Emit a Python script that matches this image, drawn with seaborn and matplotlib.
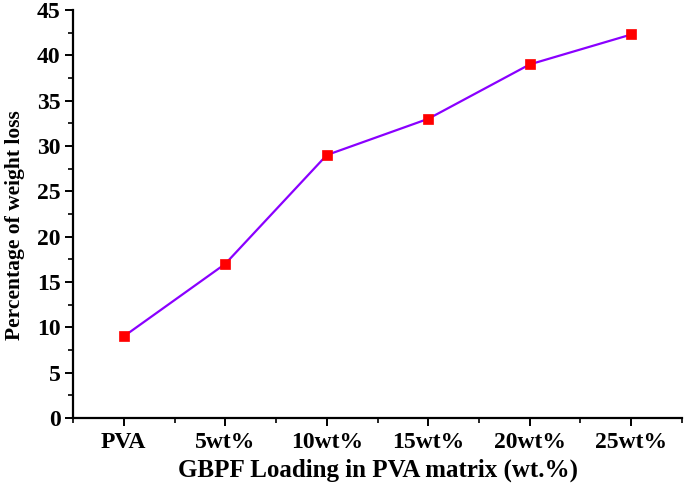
import matplotlib
matplotlib.use("Agg")
import matplotlib.pyplot as plt
import seaborn as sns
import pandas as pd
from matplotlib.ticker import MultipleLocator, FixedLocator

categories = ["PVA", "5wt%", "10wt%", "15wt%", "20wt%", "25wt%"]
weight_loss = [9.0, 17.0, 29.0, 33.0, 39.0, 42.3]

sns.set_style("ticks")
plt.rcParams["font.family"] = ["Liberation Serif", "DejaVu Serif"]
plt.rcParams["font.weight"] = "bold"
plt.rcParams["text.color"] = "black"
plt.rcParams["axes.labelcolor"] = "black"
plt.rcParams["xtick.color"] = "black"
plt.rcParams["ytick.color"] = "black"

df = pd.DataFrame({"cat": categories, "pos": range(len(categories)), "val": weight_loss})

fig = plt.figure(figsize=(6.85, 4.91), dpi=100)
ax = fig.add_axes([0.1066, 0.1487, 0.889, 0.8309])

sns.lineplot(data=df, x="pos", y="val", ax=ax, color="#8A00FF", linewidth=1.6,
             marker="s", markersize=7, markerfacecolor="#FF0000",
             markeredgecolor="#FF0000", markeredgewidth=0.5)

ax.set_xlim(-0.5, 5.5)
ax.set_ylim(0, 45)
ax.set_xticks(range(len(categories)))
ax.set_xticklabels(categories)
ax.xaxis.set_minor_locator(FixedLocator([-0.5 + i for i in range(7)]))
ax.yaxis.set_major_locator(MultipleLocator(5))
ax.yaxis.set_minor_locator(MultipleLocator(2.5))

for s in ["top", "right"]:
    ax.spines[s].set_visible(False)
for s in ["left", "bottom"]:
    ax.spines[s].set_linewidth(1.6)
    ax.spines[s].set_color("black")

ax.tick_params(axis="both", which="major", direction="out", length=6, width=1.4,
               labelsize=17, colors="black", labelcolor="black")
ax.tick_params(axis="x", which="major", pad=4)
ax.tick_params(axis="y", which="major", pad=3)
ax.tick_params(axis="both", which="minor", direction="out", length=3.5, width=1.2, colors="black")
for lab in ax.get_xticklabels() + ax.get_yticklabels():
    lab.set_fontweight("bold")

ax.set_xlabel("GBPF Loading in PVA matrix (wt.%)", fontsize=18, fontweight="bold",
              color="black")
ax.xaxis.set_label_coords(0.5, -0.1)
ax.set_ylabel("Percentage of weight loss", fontsize=15.5, fontweight="bold",
              color="black", va="center")
ax.yaxis.set_label_coords(-0.095, 0.473)

fig.savefig("out.png", dpi=100)
